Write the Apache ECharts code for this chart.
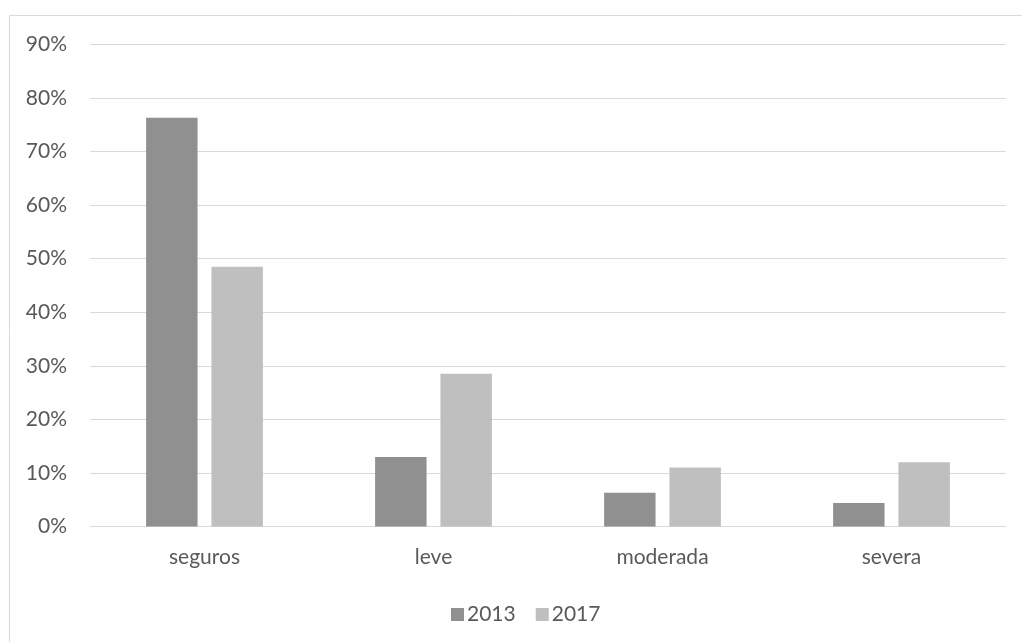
<!DOCTYPE html>
<html>
<head>
<meta charset="utf-8">
<script src="https://cdn.jsdelivr.net/npm/echarts@6/dist/echarts.min.js"></script>
<style>
  html, body { margin: 0; padding: 0; background: #ffffff; }
  #chart { width: 1022px; height: 642px; }
</style>
</head>
<body>
<div id="chart"></div>
<script>
// Categories and series values (percent)
const categories = ['seguros', 'leve', 'moderada', 'severa'];
const values2013 = [76.3, 13.0, 6.3, 4.4];
const values2017 = [48.5, 28.5, 11.0, 12.0];
const seriesNames = ['2013', '2017'];

const FONT = 'Lato, "Open Sans", sans-serif';
const TEXT = '#595959';
const GRID = '#d9d9d9';

const chart = echarts.init(document.getElementById('chart'), null, { renderer: 'canvas' });

chart.setOption({
  animation: false,
  backgroundColor: '#ffffff',
  graphic: [{
    type: 'rect',
    shape: { x: 9.5, y: 15.5, width: 1100, height: 700 },
    style: { fill: 'none', stroke: GRID, lineWidth: 1 },
    silent: true
  }],
  grid: { left: 90, right: 16, top: 44.5, bottom: 115.5, containLabel: false },
  legend: {
    data: seriesNames,
    top: 599,
    left: 446,
    itemWidth: 13,
    itemHeight: 13,
    itemGap: 20,
    icon: 'rect',
    textStyle: { color: TEXT, fontFamily: FONT, fontSize: 21, padding: [0, 0, 0, -2] }
  },
  xAxis: {
    type: 'category',
    data: categories,
    axisLine: { show: true, lineStyle: { color: GRID, width: 1 } },
    axisTick: { show: false },
    axisLabel: { color: TEXT, fontFamily: FONT, fontSize: 21, margin: 20 }
  },
  yAxis: {
    type: 'value',
    min: 0,
    max: 90,
    interval: 10,
    axisLine: { show: false },
    axisTick: { show: false },
    splitLine: { lineStyle: { color: GRID, width: 1 } },
    axisLabel: { color: TEXT, fontFamily: FONT, fontSize: 21, margin: 23, formatter: '{value}%' }
  },
  series: [
    {
      name: seriesNames[0],
      type: 'bar',
      data: values2013,
      barGap: '27%',
      barCategoryGap: '49%',
      itemStyle: { color: '#909090' }
    },
    {
      name: seriesNames[1],
      type: 'bar',
      data: values2017,
      barGap: '27%',
      barCategoryGap: '49%',
      itemStyle: { color: '#bfbfbf' }
    }
  ]
});
</script>
</body>
</html>
